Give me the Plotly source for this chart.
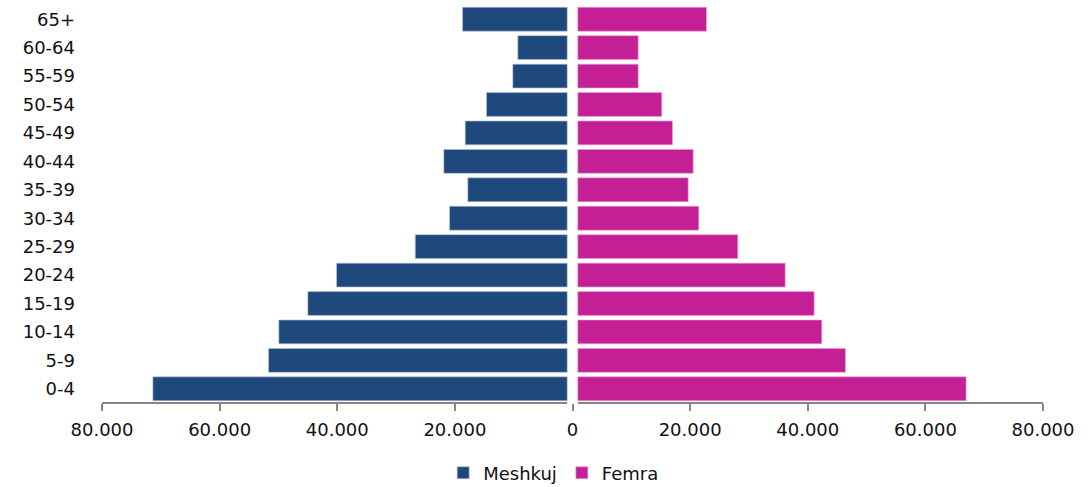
import numpy as np
import plotly.graph_objects as go

# ---- data ----
age_groups = ["65+", "60-64", "55-59", "50-54", "45-49", "40-44", "35-39",
              "30-34", "25-29", "20-24", "15-19", "10-14", "5-9", "0-4"]
male = [18700, 9300, 10150, 14620, 18240, 21880, 17800,
        20910, 26740, 40120, 45000, 49930, 51680, 71350]
female = [22780, 11170, 11170, 15180, 17000, 20520, 19670,
          21470, 28100, 36160, 41090, 42380, 46410, 66930]
tick_values = [-80000, -60000, -40000, -20000, 0, 20000, 40000, 60000, 80000]
tick_labels = ["80.000", "60.000", "40.000", "20.000", "0",
               "20.000", "40.000", "60.000", "80.000"]
series_names = ["Meshkuj", "Femra"]

# ---- style ----
GAP = 900  # visual gap on each side of zero (axis units)
MALE_COLOR = "#1F497D"
FEMALE_COLOR = "#C51F95"
AXIS_COLOR = "#868686"
FONT = "DejaVu Sans"
FS = 18

m = np.array(male, dtype=float)
f = np.array(female, dtype=float)

fig = go.Figure()
fig.add_trace(go.Bar(
    y=age_groups, x=-(m - GAP), base=-GAP, orientation="h",
    name=series_names[0],
    marker=dict(color=MALE_COLOR, line=dict(color="rgba(180,195,215,0.8)", width=0.8)),
))
fig.add_trace(go.Bar(
    y=age_groups, x=(f - GAP), base=GAP, orientation="h",
    name=series_names[1],
    marker=dict(color=FEMALE_COLOR, line=dict(color="rgba(235,160,210,0.8)", width=0.8)),
))

# split axis line (gap around zero)
for x0, x1 in [(tick_values[0], -GAP), (GAP, tick_values[-1])]:
    fig.add_shape(type="line", xref="x", yref="paper", x0=x0, x1=x1, y0=0, y1=0,
                  line=dict(color=AXIS_COLOR, width=2), layer="above")

fig.update_layout(
    width=1088, height=487,
    margin=dict(l=102, r=45, t=5, b=84, autoexpand=False),
    paper_bgcolor="white", plot_bgcolor="white",
    barmode="overlay", bargap=0.16,
    font=dict(family=FONT, size=FS, color="#111111"),
    showlegend=True,
    legend=dict(orientation="h", x=0.48, xanchor="center", y=-0.176, yanchor="middle",
                font=dict(family=FONT, size=FS, color="#111111"),
                itemwidth=30, traceorder="normal"),
    xaxis=dict(range=[tick_values[0], tick_values[-1]], tickvals=tick_values,
               ticktext=tick_labels, showgrid=False, zeroline=False, showline=False,
               automargin=False,
               ticks="outside", ticklen=7, tickwidth=2, tickcolor=AXIS_COLOR,
               ticklabelstandoff=3, tickfont=dict(family=FONT, size=FS)),
    yaxis=dict(autorange="reversed", showgrid=False, zeroline=False, showline=False,
               automargin=False,
               ticks="", ticklabelstandoff=26, tickfont=dict(family=FONT, size=FS)),
)

fig.write_html("out.html",
               config={"displayModeBar": False},
               post_script="document.body.style.margin='0';document.body.style.padding='0';")
